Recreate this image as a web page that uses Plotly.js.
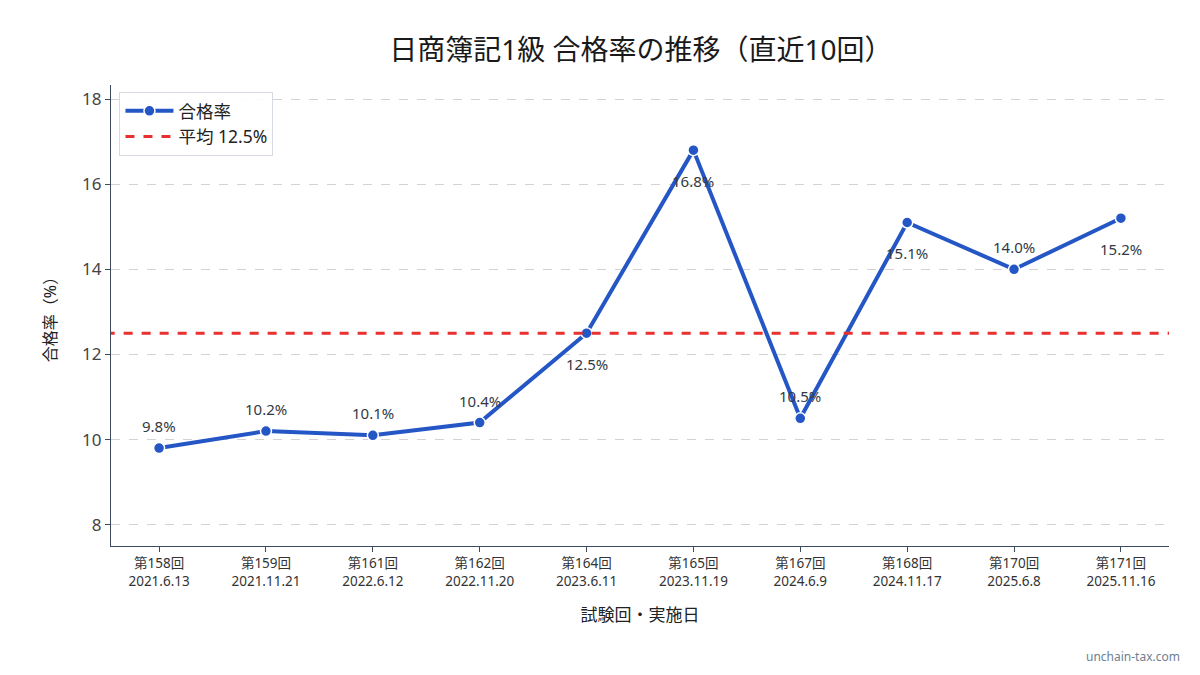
<!DOCTYPE html>
<html><head><meta charset="utf-8">
<script src="https://cdn.plot.ly/plotly-3.0.1.min.js"></script>
<style>html,body{margin:0;padding:0;background:#fff}#chart{width:1200px;height:675px}</style>
</head><body><div id="chart"></div>
<script>
const rounds = ["第158回","第159回","第161回","第162回","第164回","第165回","第167回","第168回","第170回","第171回"];
const dates = ["2021.6.13","2021.11.21","2022.6.12","2022.11.20","2023.6.11","2023.11.19","2024.6.9","2024.11.17","2025.6.8","2025.11.16"];
const passRate = [9.8,10.2,10.1,10.4,12.5,16.8,10.5,15.1,14.0,15.2];
const average = 12.5;
const labelSide = ["top","top","top","top","bottom","bottom","top","bottom","top","bottom"];

const F = '"Noto Sans", "Noto Sans CJK JP", sans-serif';
const cats = rounds.map((r,i)=>r+"<br>"+dates[i]);

const traces = [
  {x: cats, y: passRate, type:'scatter', mode:'lines+markers', name:'合格率',
   line:{color:'#2456c6', width:4},
   marker:{color:'#2456c6', size:11, line:{color:'#ffffff', width:1.5}}},
  {x: [-0.5, cats.length-0.5], y:[average, average], xaxis:'x2', type:'scatter', mode:'lines',
   name:'平均 '+average.toFixed(1)+'%',
   line:{color:'#e8302e', width:3, dash:'dash'}}
];

const annotations = passRate.map((v,i)=>({
  x: cats[i], y: v, xref:'x', yref:'y', text: v.toFixed(1)+'%', showarrow:false,
  yanchor:'middle', yshift: labelSide[i]==='top' ? 22 : -31,
  font:{family:F, size:15, color:'#333a44'}
}));
annotations.push({xref:'paper', yref:'paper', x:1.012, y:-0.239, xanchor:'right', yanchor:'middle',
  text:'unchain-tax.com', showarrow:false, font:{family:F, size:12, color:'#6e8090'}});

const layout = {
  width:1200, height:675,
  margin:{l:111, r:31, t:85, b:129},
  paper_bgcolor:'#fff', plot_bgcolor:'#fff',
  font:{family:F, color:'#333'},
  title:{text:'日商簿記1級 合格率の推移（直近10回）', x:0.534, xanchor:'center', y:0.925, yanchor:'middle',
         font:{family:F, size:28, color:'#1a1a1a'}},
  xaxis:{type:'category', range:[-0.45, 9.45], showgrid:false, zeroline:false,
         showline:true, linecolor:'#3d4b5c', linewidth:1.2,
         ticks:'outside', ticklen:5, tickcolor:'#3d4b5c',
         tickfont:{family:F, size:13.5, color:'#333'},
         title:{text:'試験回・実施日', font:{family:F, size:17, color:'#222'}, standoff:20}},
  xaxis2:{overlaying:'x', range:[-0.45, 9.45], visible:false},
  yaxis:{range:[7.5, 18.33], dtick:2, tick0:8, showgrid:true, gridcolor:'#d3d3d3', griddash:'dash', gridwidth:1,
         zeroline:false, showline:true, linecolor:'#3d4b5c', linewidth:1.2,
         ticks:'outside', ticklen:5, tickcolor:'#3d4b5c',
         tickfont:{family:F, size:17, color:'#444'},
         title:{text:'合格率（%）', font:{family:F, size:16, color:'#222'}, standoff:21}},
  legend:{x:0.008, y:0.985, xanchor:'left', yanchor:'top', bgcolor:'rgba(255,255,255,0.9)',
          bordercolor:'#d5dbe0', borderwidth:1, font:{family:F, size:17.5, color:'#222'},
          itemwidth:48, tracegroupgap:4},
  annotations: annotations,
  showlegend:true
};

Plotly.newPlot('chart', traces, layout, {displayModeBar:false, staticPlot:true});
</script></body></html>
